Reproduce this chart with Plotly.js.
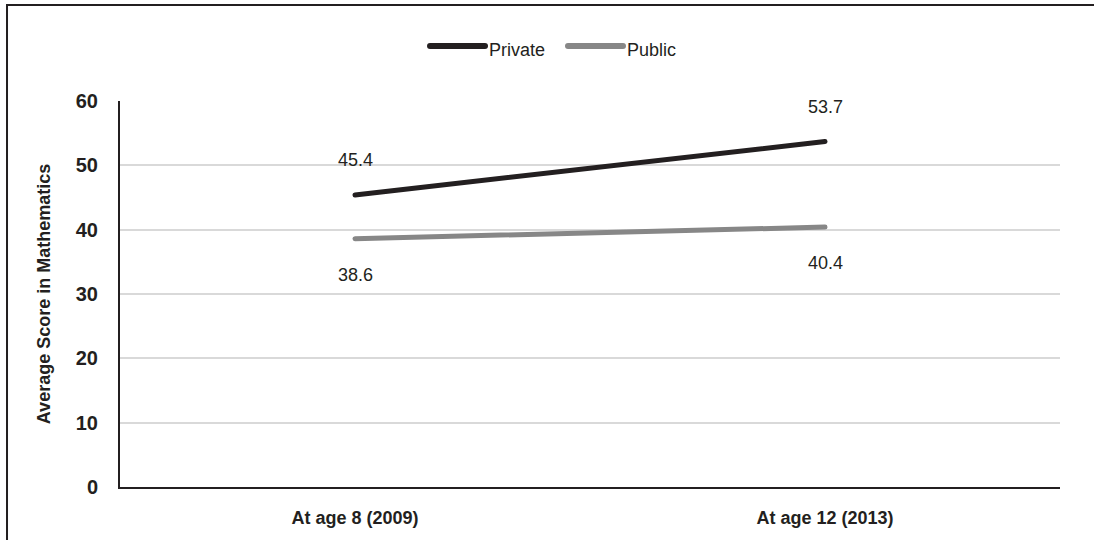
<!DOCTYPE html>
<html>
<head>
<meta charset="utf-8">
<script src="https://cdn.plot.ly/plotly-3.0.1.min.js"></script>
<style>
  html, body { margin: 0; padding: 0; background: #fff; }
  #chart { width: 1094px; height: 540px; }
  /* rounded ends on the series lines and legend keys */
  #chart .scatterlayer .js-line { stroke-linecap: round; }
  #chart .shapelayer path.legend-key { stroke-linecap: round; }
</style>
</head>
<body>
<div id="chart"></div>
<script>
// Mean mathematics score by school type, same cohort at two ages
const categories = ['At age 8 (2009)', 'At age 12 (2013)'];
const seriesNames = ['Private', 'Public'];
const privateScores = [45.4, 53.7];
const publicScores = [38.6, 40.4];
const seriesColors = ['#231f20', '#878787'];
const yTicks = [0, 10, 20, 30, 40, 50, 60];

const font = '"Liberation Sans", Arial, sans-serif';
const ink = '#231f20';

const seriesValues = [privateScores, publicScores];
const traces = seriesNames.map((name, k) => ({
  name: name, x: categories, y: seriesValues[k], type: 'scatter', mode: 'lines',
  line: { color: seriesColors[k], width: 5 }, hoverinfo: 'skip', showlegend: false
}));

// value labels: private above its line, public below
const annotations = [];
categories.forEach((c, i) => {
  annotations.push({
    x: c, y: privateScores[i], xref: 'x', yref: 'y', text: privateScores[i].toFixed(1),
    showarrow: false, yshift: 35, font: { family: font, size: 18, color: ink }
  });
  annotations.push({
    x: c, y: publicScores[i], xref: 'x', yref: 'y', text: publicScores[i].toFixed(1),
    showarrow: false, yshift: -36, font: { family: font, size: 18, color: ink }
  });
});

// legend row above the plot: a thick key line followed by the series name
const legendKeys = [[0.3298, 0.3883], [0.4766, 0.5351]];
const legendLineY = 1.1425;
const legendTextY = 1.131;
const shapes = [
  {
    type: 'rect', xref: 'paper', yref: 'paper',
    x0: -0.1202, x1: 1.2, y0: -0.3, y1: 1.2487,
    line: { color: ink, width: 2 }, fillcolor: 'rgba(0,0,0,0)', layer: 'below'
  }
];
seriesNames.forEach((name, k) => {
  shapes.push({
    type: 'line', xref: 'paper', yref: 'paper', name: 'legend-key',
    x0: legendKeys[k][0], x1: legendKeys[k][1], y0: legendLineY, y1: legendLineY,
    line: { color: seriesColors[k], width: 6 }
  });
  annotations.push({
    xref: 'paper', yref: 'paper', x: legendKeys[k][1] + 0.002, y: legendTextY,
    xanchor: 'left', yanchor: 'middle', showarrow: false, text: name,
    font: { family: font, size: 18, color: ink }
  });
});

const layout = {
  width: 1094, height: 540,
  margin: { l: 120, r: 34, t: 101, b: 53 },
  paper_bgcolor: '#ffffff', plot_bgcolor: '#ffffff',
  showlegend: false,
  xaxis: {
    type: 'category', range: [-0.5, 1.5],
    showgrid: false, showline: true, linecolor: ink, linewidth: 2,
    ticks: '', ticklabelstandoff: 13,
    tickfont: { family: font, size: 18, color: ink, weight: 'bold' },
    fixedrange: true
  },
  yaxis: {
    range: [0, 60], tickvals: yTicks, ticktext: yTicks.map(String),
    showgrid: true, gridcolor: '#d9d9d9', gridwidth: 2,
    zeroline: false, showline: true, linecolor: ink, linewidth: 2,
    ticks: '', ticklabelstandoff: 16,
    tickfont: { family: font, size: 20, color: ink, weight: 'bold' },
    title: {
      text: 'Average Score in Mathematics', standoff: 20,
      font: { family: font, size: 18, color: ink, weight: 'bold' }
    },
    fixedrange: true
  },
  shapes: shapes,
  annotations: annotations
};

Plotly.newPlot('chart', traces, layout, { displayModeBar: false, staticPlot: true }).then(gd => {
  // tag the legend key paths so the round-cap rule applies to them
  const paths = gd.querySelectorAll('.shapelayer path');
  paths.forEach((p, i) => { if (i > 0) p.classList.add('legend-key'); });
});
</script>
</body>
</html>
